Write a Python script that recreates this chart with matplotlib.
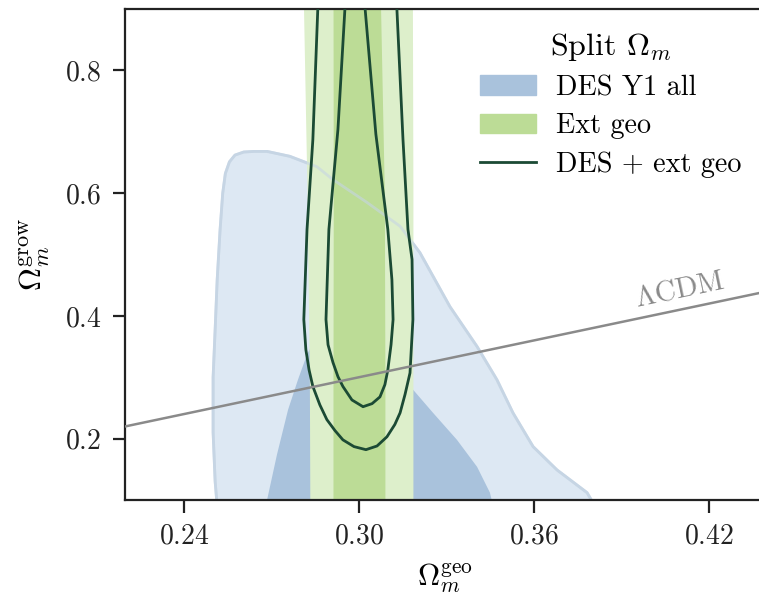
import matplotlib
matplotlib.use("Agg")
import matplotlib.pyplot as plt
from matplotlib.patches import Patch
from matplotlib.lines import Line2D

plt.rcParams['font.family'] = 'serif'
plt.rcParams['font.serif'] = ['cmr10']
plt.rcParams['mathtext.fontset'] = 'cm'
plt.rcParams['axes.formatter.use_mathtext'] = True

# DES Y1 all: outer (95%) and inner (68%) regions
des_outer_x = [0.2514, 0.2507, 0.2500, 0.2500, 0.2507, 0.2514, 0.2524, 0.2533, 0.2542,
               0.2556, 0.2575, 0.2605, 0.2640, 0.2685, 0.2763, 0.2856, 0.2911, 0.3027,
               0.3141, 0.3209, 0.3312, 0.3405, 0.3473, 0.3528, 0.3597, 0.3679, 0.3782,
               0.3809]
des_outer_y = [0.090, 0.130, 0.210, 0.300, 0.378, 0.459, 0.541, 0.600, 0.632,
               0.651, 0.662, 0.667, 0.668, 0.668, 0.660, 0.643, 0.622, 0.585,
               0.546, 0.503, 0.415, 0.350, 0.296, 0.242, 0.187, 0.149, 0.112,
               0.090]
des_inner_x = [0.2678, 0.2685, 0.2719, 0.2757, 0.2791, 0.2822, 0.2849, 0.2901, 0.2969,
               0.3038, 0.3123, 0.3185, 0.3254, 0.3336, 0.3405, 0.3449, 0.3460]
des_inner_y = [0.090, 0.100, 0.174, 0.247, 0.296, 0.337, 0.361, 0.378, 0.380,
               0.370, 0.329, 0.280, 0.242, 0.198, 0.154, 0.112, 0.090]

# Ext geo: bands in Omega_m^geo, nearly independent of Omega_m^grow
geo_y = [0.05, 0.30, 0.60, 0.95]
geo_outer_lo = [0.2832, 0.2830, 0.2822, 0.2808]
geo_outer_hi = [0.3185, 0.3185, 0.3185, 0.3183]
geo_inner_lo = [0.2911, 0.2911, 0.2912, 0.2911]
geo_inner_hi = [0.3089, 0.3089, 0.3087, 0.3072]

# DES + ext geo contour lines
comb_outer_x = [0.2866, 0.2859, 0.2842, 0.2822, 0.2811, 0.2818, 0.2829, 0.2842, 0.2866,
                0.2890, 0.2918, 0.2945, 0.2983, 0.3024, 0.3062, 0.3096, 0.3123, 0.3141,
                0.3158, 0.3175, 0.3185, 0.3182, 0.3168, 0.3151, 0.3130, 0.3127]
comb_outer_y = [0.950, 0.901, 0.687, 0.541, 0.394, 0.345, 0.312, 0.285, 0.255,
                0.231, 0.213, 0.198, 0.187, 0.182, 0.188, 0.203, 0.223, 0.242,
                0.272, 0.307, 0.394, 0.492, 0.541, 0.687, 0.901, 0.950]
comb_inner_x = [0.2959, 0.2952, 0.2928, 0.2897, 0.2887, 0.2894, 0.2911, 0.2928, 0.2945,
                0.2976, 0.3014, 0.3045, 0.3072, 0.3089, 0.3099, 0.3110, 0.3117, 0.3113,
                0.3099, 0.3058, 0.3021, 0.3014]
comb_inner_y = [0.950, 0.901, 0.704, 0.541, 0.394, 0.353, 0.324, 0.301, 0.285,
                0.263, 0.252, 0.257, 0.268, 0.288, 0.312, 0.353, 0.394, 0.459,
                0.541, 0.696, 0.901, 0.950]

lcdm = [0.20, 0.45]

blue_light = '#dde8f3'
blue_dark = '#a9c2dc'
blue_edge = '#c6d5e4'
green_light = '#ddefcb'
green_dark = '#bcdc96'
dark_green = '#1b4a34'

fig = plt.figure(figsize=(7.59, 5.97), dpi=100)
ax = fig.add_axes([125 / 759, 97 / 597, 640 / 759, 491 / 597])

ax.fill(des_outer_x, des_outer_y, color=blue_light, lw=0, zorder=1)
ax.plot(des_outer_x, des_outer_y, color=blue_edge, lw=2, zorder=1.5)
ax.fill(des_inner_x, des_inner_y, color=blue_dark, lw=0, zorder=1.6)

ax.fill_betweenx(geo_y, geo_outer_lo, geo_outer_hi, color=green_light, lw=0, zorder=2)
ax.fill_betweenx(geo_y, geo_inner_lo, geo_inner_hi, color=green_dark, lw=0, zorder=2.1)
ax.plot(des_outer_x, des_outer_y, color=blue_edge, lw=2, alpha=0.6, zorder=2.5)

ax.plot(comb_outer_x, comb_outer_y, color=dark_green, lw=2.0, zorder=4)
ax.plot(comb_inner_x, comb_inner_y, color=dark_green, lw=2.0, zorder=4)

ax.plot(lcdm, lcdm, color='#8a8a8a', lw=1.8, zorder=5)
ax.text(0.411, 0.421, r'$\Lambda$CDM', rotation=45, transform_rotates_text=True,
        rotation_mode='anchor', ha='center', va='bottom', color='#8a8a8a',
        fontsize=21, zorder=5)

ax.set_xlim(0.2198, 0.4392)
ax.set_ylim(0.1, 0.9)
ax.set_xticks([0.24, 0.30, 0.36, 0.42])
ax.set_yticks([0.2, 0.4, 0.6, 0.8])
ax.tick_params(labelsize=20, length=9, width=1.6, pad=8, colors='#222222')
for sp in ax.spines.values():
    sp.set_linewidth(1.6)
    sp.set_color('#222222')

ax.set_xlabel(r'$\Omega_m^{\rm geo}$', fontsize=22, labelpad=8)
ax.set_ylabel(r'$\Omega_m^{\rm grow}$', fontsize=23, labelpad=9)

handles = [Patch(color=blue_dark), Patch(color=green_dark),
           Line2D([], [], color=dark_green, lw=2.0)]
labels = ['DES Y1 all', 'Ext geo', 'DES + ext geo']
fig.legend(handles, labels, title=r'Split $\Omega_m$', loc='upper left',
           bbox_to_anchor=(480 / 759, 1 - 31 / 597), frameon=False, fontsize=20.3,
           title_fontsize=23, borderpad=0, borderaxespad=0, handlelength=2.0,
           handletextpad=0.7, labelspacing=0.42)

fig.savefig('out.png', dpi=100)
